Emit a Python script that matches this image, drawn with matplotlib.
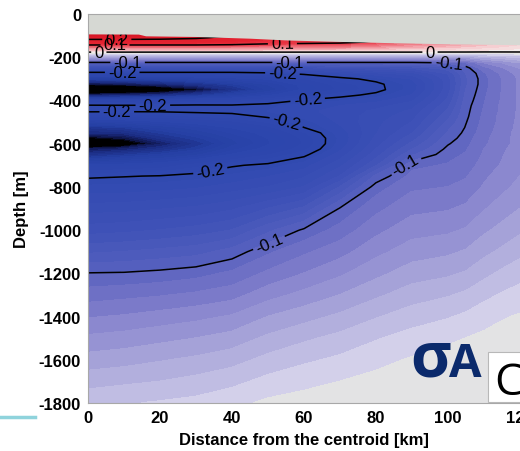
import numpy as np
import matplotlib
matplotlib.use("Agg")
import matplotlib.pyplot as plt
from matplotlib.colors import LinearSegmentedColormap, Normalize
from matplotlib.lines import Line2D
from matplotlib.patches import Rectangle

plt.rcParams['font.family'] = ['Liberation Sans', 'DejaVu Sans']
plt.rcParams['axes.unicode_minus'] = False
plt.rcParams['contour.negative_linestyle'] = 'solid'

# ---------------- data ----------------
distance_km = [0, 10, 20, 30, 40, 50, 60, 70, 80, 90, 100, 105, 110, 115, 120]
depth_m = [-90, -110, -130, -150, -175, -200, -225, -250, -275, -300, -325, -350,
           -375, -400, -425, -450, -475, -500, -525, -550, -575, -600, -625, -650,
           -700, -750, -800, -900, -1000, -1100, -1200, -1300, -1400, -1500,
           -1600, -1700, -1800]

sigma_anomaly = [
    [0.40, 0.38, 0.35, 0.30, 0.22, 0.17, 0.15, 0.14, 0.12, 0.10, 0.08, 0.07, 0.06, 0.05, 0.04],
    [0.23, 0.23, 0.225, 0.21, 0.18, 0.15, 0.14, 0.13, 0.11, 0.09, 0.07, 0.06, 0.05, 0.04, 0.035],
    [0.15, 0.15, 0.15, 0.15, 0.14, 0.12, 0.115, 0.11, 0.095, 0.075, 0.06, 0.05, 0.04, 0.03, 0.025],
    [0.075, 0.075, 0.075, 0.075, 0.073, 0.07, 0.068, 0.066, 0.055, 0.045, 0.035, 0.03, 0.025, 0.02, 0.015],
    [0.003, 0.003, 0.003, 0.003, 0.003, 0.003, 0.003, 0.003, 0.003, 0.003, 0.002, 0.002, 0.001, 0.001, 0.001],
    [-0.05, -0.05, -0.05, -0.05, -0.05, -0.05, -0.05, -0.05, -0.05, -0.05, -0.05, -0.05, -0.04, -0.035, -0.03],
    [-0.102, -0.102, -0.102, -0.102, -0.102, -0.102, -0.102, -0.102, -0.102, -0.102, -0.098, -0.09, -0.07, -0.06, -0.05],
    [-0.16, -0.16, -0.16, -0.16, -0.16, -0.16, -0.155, -0.15, -0.145, -0.14, -0.125, -0.104, -0.085, -0.072, -0.06],
    [-0.21, -0.21, -0.21, -0.21, -0.21, -0.205, -0.195, -0.185, -0.175, -0.165, -0.14, -0.11, -0.092, -0.078, -0.066],
    [-0.28, -0.275, -0.27, -0.26, -0.25, -0.24, -0.222, -0.205, -0.195, -0.18, -0.145, -0.112, -0.094, -0.08, -0.068],
    [-0.355, -0.345, -0.33, -0.31, -0.285, -0.26, -0.235, -0.215, -0.204, -0.186, -0.146, -0.112, -0.094, -0.08, -0.068],
    [-0.45, -0.43, -0.40, -0.36, -0.31, -0.27, -0.238, -0.218, -0.205, -0.186, -0.145, -0.11, -0.093, -0.08, -0.068],
    [-0.34, -0.33, -0.32, -0.30, -0.27, -0.245, -0.222, -0.205, -0.196, -0.18, -0.142, -0.108, -0.092, -0.079, -0.068],
    [-0.235, -0.235, -0.23, -0.225, -0.222, -0.212, -0.198, -0.192, -0.184, -0.172, -0.138, -0.106, -0.091, -0.079, -0.068],
    [-0.195, -0.196, -0.196, -0.195, -0.196, -0.192, -0.186, -0.18, -0.174, -0.164, -0.133, -0.104, -0.09, -0.078, -0.068],
    [-0.197, -0.198, -0.198, -0.196, -0.195, -0.19, -0.183, -0.176, -0.168, -0.158, -0.128, -0.103, -0.089, -0.078, -0.068],
    [-0.225, -0.222, -0.218, -0.212, -0.207, -0.198, -0.188, -0.176, -0.165, -0.154, -0.123, -0.102, -0.088, -0.077, -0.068],
    [-0.26, -0.255, -0.245, -0.235, -0.225, -0.21, -0.195, -0.178, -0.163, -0.15, -0.118, -0.1005, -0.087, -0.077, -0.067],
    [-0.30, -0.29, -0.27, -0.255, -0.24, -0.225, -0.20, -0.182, -0.162, -0.146, -0.113, -0.099, -0.086, -0.076, -0.067],
    [-0.32, -0.315, -0.29, -0.27, -0.25, -0.235, -0.212, -0.186, -0.161, -0.141, -0.109, -0.097, -0.085, -0.075, -0.066],
    [-0.37, -0.35, -0.31, -0.285, -0.26, -0.24, -0.218, -0.188, -0.158, -0.135, -0.105, -0.095, -0.083, -0.074, -0.066],
    [-0.44, -0.39, -0.335, -0.30, -0.265, -0.242, -0.219, -0.187, -0.155, -0.128, -0.101, -0.093, -0.082, -0.074, -0.066],
    [-0.34, -0.33, -0.31, -0.285, -0.255, -0.235, -0.214, -0.183, -0.15, -0.121, -0.097, -0.091, -0.08, -0.072, -0.065],
    [-0.31, -0.295, -0.28, -0.265, -0.24, -0.222, -0.204, -0.176, -0.145, -0.112, -0.094, -0.089, -0.079, -0.071, -0.064],
    [-0.24, -0.235, -0.23, -0.215, -0.202, -0.196, -0.185, -0.163, -0.132, -0.093, -0.089, -0.085, -0.076, -0.069, -0.062],
    [-0.203, -0.201, -0.199, -0.195, -0.188, -0.181, -0.172, -0.15, -0.108, -0.087, -0.085, -0.081, -0.072, -0.066, -0.06],
    [-0.188, -0.187, -0.185, -0.182, -0.176, -0.17, -0.16, -0.13, -0.095, -0.082, -0.08, -0.077, -0.069, -0.063, -0.057],
    [-0.165, -0.164, -0.161, -0.158, -0.152, -0.14, -0.128, -0.099, -0.083, -0.073, -0.071, -0.068, -0.061, -0.055, -0.05],
    [-0.145, -0.143, -0.14, -0.136, -0.13, -0.113, -0.098, -0.086, -0.073, -0.064, -0.062, -0.059, -0.052, -0.047, -0.042],
    [-0.122, -0.12, -0.117, -0.114, -0.106, -0.092, -0.082, -0.074, -0.063, -0.055, -0.052, -0.049, -0.043, -0.038, -0.033],
    [-0.0995, -0.099, -0.097, -0.094, -0.088, -0.078, -0.07, -0.062, -0.053, -0.045, -0.042, -0.039, -0.033, -0.028, -0.024],
    [-0.085, -0.083, -0.081, -0.078, -0.074, -0.064, -0.057, -0.05, -0.042, -0.035, -0.031, -0.028, -0.023, -0.019, -0.016],
    [-0.071, -0.069, -0.066, -0.063, -0.059, -0.05, -0.044, -0.038, -0.031, -0.025, -0.021, -0.018, -0.014, -0.011, -0.009],
    [-0.058, -0.056, -0.053, -0.05, -0.046, -0.038, -0.032, -0.027, -0.021, -0.016, -0.012, -0.01, -0.008, -0.006, -0.004],
    [-0.046, -0.044, -0.041, -0.038, -0.034, -0.027, -0.022, -0.018, -0.013, -0.009, -0.006, -0.005, -0.004, -0.003, -0.002],
    [-0.034, -0.032, -0.03, -0.027, -0.023, -0.017, -0.013, -0.01, -0.007, -0.005, -0.003, -0.002, -0.002, -0.001, -0.001],
    [-0.023, -0.021, -0.019, -0.017, -0.013, -0.008, -0.006, -0.004, -0.003, -0.002, -0.001, -0.001, -0.001, -0.0005, -0.0005],
]

# upper limit of the data (grey area above)
surface_km = [0, 14, 16, 30, 45, 55, 70, 85, 100, 120]
surface_depth_m = [-92, -93, -101, -104, -112, -120, -127, -133, -138, -142]

contour_levels = [-0.2, -0.1, 0, 0.1, 0.2]
x_ticks = [0, 20, 40, 60, 80, 100, 120]
y_ticks = [0, -200, -400, -600, -800, -1000, -1200, -1400, -1600, -1800]

# label anchor points (km, m)
label_points = [(8, -112), (7.5, -142), (54, -137), (3, -177), (95, -177),
                (11, -224), (56, -227), (100, -245), (88, -694), (50, -1050),
                (9.5, -272), (54, -279), (8, -455), (18, -420), (61, -395),
                (55, -508), (34, -728)]

# ---------------- figure ----------------
W, H = 520, 452
fig = plt.figure(figsize=(W / 100, H / 100), dpi=100)
ax = fig.add_axes([88 / W, 1 - 404 / H, (520 - 88) / W, (404 - 15) / H])

X, Y = np.meshgrid(distance_km, depth_m)
Z = np.array(sigma_anomaly)

vmin, vmax = -0.36, 0.40
anchors = [(-0.36, '#03040f'), (-0.345, '#0e1548'), (-0.32, '#1a2a80'),
           (-0.28, '#2540a4'), (-0.24, '#2b45ac'), (-0.20, '#3049b0'),
           (-0.15, '#3c50b6'), (-0.12, '#4a59bb'), (-0.10, '#5962bf'),
           (-0.08, '#7776c8'), (-0.06, '#918ed1'), (-0.04, '#aaa7da'),
           (-0.025, '#c2bfe4'), (-0.012, '#d6d4eb'), (-0.004, '#e6e6e3'),
           (0.0, '#f3f1ef'), (0.03, '#f6c6ca'), (0.06, '#f08892'),
           (0.10, '#e8404e'), (0.15, '#e42230'), (0.40, '#d41424')]
cmap = LinearSegmentedColormap.from_list(
    'sa', [((v - vmin) / (vmax - vmin), c) for v, c in anchors])
cmap.set_under('#000000')
cmap.set_over('#d41424')
levels = np.round(np.arange(-36, 41) / 100.0, 2)

ax.set_facecolor('#d6d8d3')
cf = ax.contourf(X, Y, Z, levels=levels, cmap=cmap, norm=Normalize(vmin, vmax),
                 extend='both', zorder=1)
cf.set_edgecolor('face')
cf.set_linewidth(0.5)
cs = ax.contour(X, Y, Z, levels=contour_levels, colors='black',
                linewidths=1.1, linestyles='solid', zorder=3)
ax.clabel(cs, fmt=lambda v: f"{v:g}", fontsize=12, inline=True,
          inline_spacing=3, manual=label_points)

ax.fill_between(surface_km, 0, surface_depth_m, color='#d6d8d3', lw=0, zorder=5)

ax.set_xlim(0, 120)
ax.set_ylim(-1800, 0)
ax.set_xticks(x_ticks)
ax.set_yticks(y_ticks)
ax.tick_params(length=0, labelsize=12, pad=5)
plt.setp(ax.get_xticklabels(), fontweight='bold')
plt.setp(ax.get_yticklabels(), fontweight='bold')
for s in ['left', 'bottom', 'top']:
    ax.spines[s].set_color('#a8a8a8')
    ax.spines[s].set_linewidth(0.8)
    ax.spines[s].set_zorder(6)
ax.spines['right'].set_visible(False)

ax.set_xlabel('Distance from the centroid [km]', fontsize=12,
              fontweight='bold', labelpad=5)
ax.set_ylabel('Depth [m]', fontsize=12, fontweight='bold', labelpad=7)

# overlay annotations
fig.text(410 / W, 1 - 377 / H, 'σ', fontsize=45, fontweight='bold',
         color='#0b2a6c', family='Open Sans', ha='left', va='baseline')
fig.text(449 / W, 1 - 377 / H, 'A', fontsize=34, fontweight='bold',
         color='#0b2a6c', family='Open Sans', ha='left', va='baseline')
fig.patches.append(Rectangle((488 / W, 1 - 403 / H), 40 / W, 50 / H,
                             transform=fig.transFigure, facecolor='white',
                             edgecolor='#b8b8b8', lw=0.8, zorder=10))
fig.text(494 / W, 1 - 395 / H, 'C', fontsize=32, color='black',
         family='Open Sans', ha='left', va='baseline', zorder=11)
fig.lines.append(Line2D([0, 35 / W], [1 - 418 / H, 1 - 418 / H],
                        transform=fig.transFigure, color='#8fd3dc', lw=2.5))

fig.savefig('out.png', dpi=100)
